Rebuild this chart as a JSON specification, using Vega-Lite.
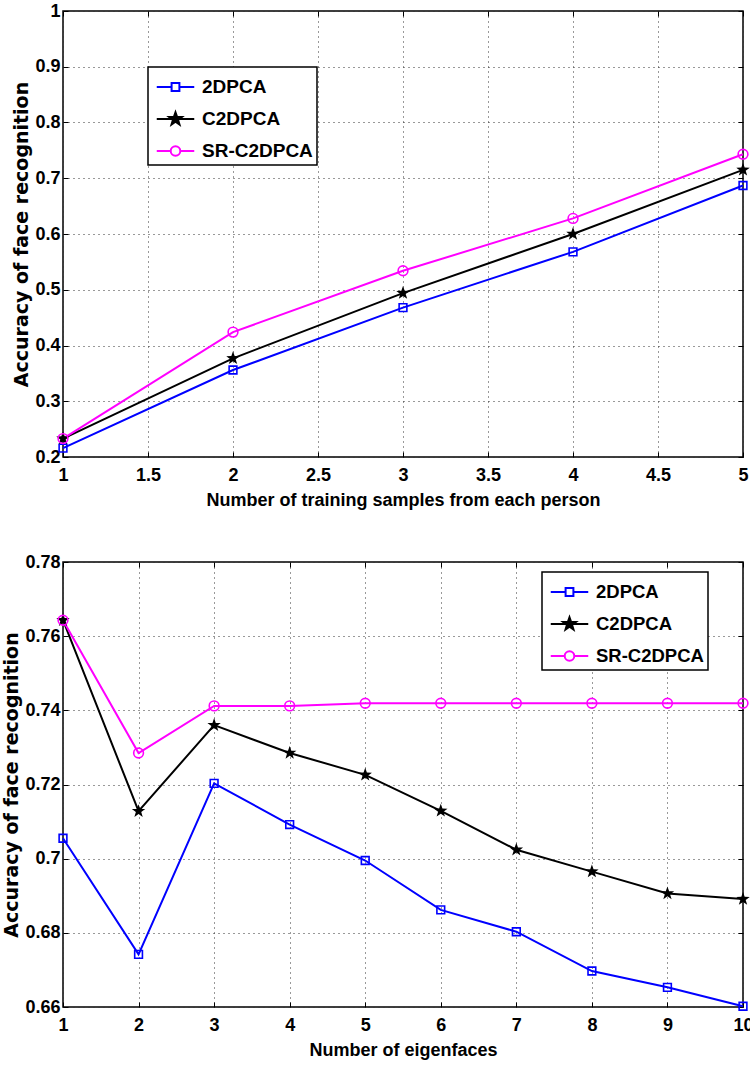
{
  "$schema": "https://vega.github.io/schema/vega-lite/v6.json",
  "background": "white",
  "padding": {"left": 2, "top": 1, "right": 0, "bottom": 0},
  "spacing": 42,
  "resolve": {"scale": {"color": "independent"}, "legend": {"color": "independent"}},
  "datasets": {
    "top": [
      {"n": 1, "method": "2DPCA", "acc": 0.216},
      {"n": 2, "method": "2DPCA", "acc": 0.356},
      {"n": 3, "method": "2DPCA", "acc": 0.468},
      {"n": 4, "method": "2DPCA", "acc": 0.568},
      {"n": 5, "method": "2DPCA", "acc": 0.687},
      {"n": 1, "method": "C2DPCA", "acc": 0.233},
      {"n": 2, "method": "C2DPCA", "acc": 0.377},
      {"n": 3, "method": "C2DPCA", "acc": 0.494},
      {"n": 4, "method": "C2DPCA", "acc": 0.6},
      {"n": 5, "method": "C2DPCA", "acc": 0.715},
      {"n": 1, "method": "SR-C2DPCA", "acc": 0.233},
      {"n": 2, "method": "SR-C2DPCA", "acc": 0.424},
      {"n": 3, "method": "SR-C2DPCA", "acc": 0.534},
      {"n": 4, "method": "SR-C2DPCA", "acc": 0.628},
      {"n": 5, "method": "SR-C2DPCA", "acc": 0.743}
    ],
    "bottom": [
      {"n": 1, "method": "2DPCA", "acc": 0.7055},
      {"n": 2, "method": "2DPCA", "acc": 0.6742},
      {"n": 3, "method": "2DPCA", "acc": 0.7203},
      {"n": 4, "method": "2DPCA", "acc": 0.7092},
      {"n": 5, "method": "2DPCA", "acc": 0.6995},
      {"n": 6, "method": "2DPCA", "acc": 0.6862},
      {"n": 7, "method": "2DPCA", "acc": 0.6803},
      {"n": 8, "method": "2DPCA", "acc": 0.6697},
      {"n": 9, "method": "2DPCA", "acc": 0.6653},
      {"n": 10, "method": "2DPCA", "acc": 0.6602},
      {"n": 1, "method": "C2DPCA", "acc": 0.7643},
      {"n": 2, "method": "C2DPCA", "acc": 0.7128},
      {"n": 3, "method": "C2DPCA", "acc": 0.736},
      {"n": 4, "method": "C2DPCA", "acc": 0.7285},
      {"n": 5, "method": "C2DPCA", "acc": 0.7226},
      {"n": 6, "method": "C2DPCA", "acc": 0.7129},
      {"n": 7, "method": "C2DPCA", "acc": 0.7024},
      {"n": 8, "method": "C2DPCA", "acc": 0.6965},
      {"n": 9, "method": "C2DPCA", "acc": 0.6906},
      {"n": 10, "method": "C2DPCA", "acc": 0.6891},
      {"n": 1, "method": "SR-C2DPCA", "acc": 0.7643},
      {"n": 2, "method": "SR-C2DPCA", "acc": 0.7285},
      {"n": 3, "method": "SR-C2DPCA", "acc": 0.7412},
      {"n": 4, "method": "SR-C2DPCA", "acc": 0.7412},
      {"n": 5, "method": "SR-C2DPCA", "acc": 0.7419},
      {"n": 6, "method": "SR-C2DPCA", "acc": 0.7419},
      {"n": 7, "method": "SR-C2DPCA", "acc": 0.7419},
      {"n": 8, "method": "SR-C2DPCA", "acc": 0.7419},
      {"n": 9, "method": "SR-C2DPCA", "acc": 0.7419},
      {"n": 10, "method": "SR-C2DPCA", "acc": 0.7419}
    ]
  },
  "vconcat": [
    {
      "width": 680,
      "height": 446,
      "data": {"name": "top"},
      "encoding": {
        "x": {"field": "n", "type": "quantitative", "scale": {"domain": [1, 5], "nice": false, "zero": false}, "axis": null},
        "y": {"field": "acc", "type": "quantitative", "scale": {"domain": [0.2, 1], "nice": false, "zero": false}, "axis": null}
      },
      "layer": [
        {
          "mark": {"type": "line", "strokeWidth": 2},
          "encoding": {
            "x": {"field": "n", "type": "quantitative", "axis": {"values": [1, 1.5, 2, 2.5, 3, 3.5, 4, 4.5, 5], "format": "~r", "title": "Number of training samples from each person", "orient": "bottom"}},
            "y": {"field": "acc", "type": "quantitative", "axis": {"values": [0.2, 0.3, 0.4, 0.5, 0.6, 0.7, 0.8, 0.9, 1], "format": "~r", "title": "Accuracy of face recognition", "orient": "left"}},
            "color": {
              "field": "method", "type": "nominal",
              "scale": {"domain": ["2DPCA", "C2DPCA", "SR-C2DPCA"], "range": ["#0000ff", "#000000", "#ff00ff"]},
              "legend": {
                "orient": "none", "legendX": 85, "legendY": 56, "labelFontSize": 19,
                "encode": {"symbols": {"update": {
                  "shape": {"signal": "datum.value === '2DPCA' ? 'M-0.75,0H0.24M0.76,0H1.75M0.24,-0.26H0.76V0.26H0.24Z' : datum.value === 'C2DPCA' ? 'M-0.75,0H1.75M0.5,-0.45L0.606,-0.146L0.928,-0.139L0.671,0.056L0.765,0.364L0.5,0.18L0.235,0.364L0.329,0.056L0.072,-0.139L0.394,-0.146Z' : 'M-0.75,0H0.18M0.82,0H1.75M0.18,0A0.32,0.32,0,1,1,0.82,0A0.32,0.32,0,1,1,0.18,0Z'"},
                  "fill": {"signal": "datum.value === 'C2DPCA' ? '#000000' : 'transparent'"},
                  "fillOpacity": {"signal": "datum.value === 'C2DPCA' ? 1 : 0"},
                  "strokeWidth": {"value": 2},
                  "opacity": {"value": 1}
                }}}
              }
            }
          }
        },
        {
          "transform": [{"filter": "datum.method === '2DPCA'"}],
          "mark": {"type": "point", "shape": "square", "size": 60, "strokeWidth": 1.6, "filled": false, "opacity": 1},
          "encoding": {"color": {"field": "method", "type": "nominal", "legend": null}}
        },
        {
          "transform": [{"filter": "datum.method === 'C2DPCA'"}],
          "mark": {"type": "point", "shape": "M0,-1L0.235,-0.324L0.951,-0.309L0.38,0.124L0.588,0.809L0,0.4L-0.588,0.809L-0.38,0.124L-0.951,-0.309L-0.235,-0.324Z", "size": 200, "filled": true, "opacity": 1},
          "encoding": {"color": {"field": "method", "type": "nominal", "legend": null}}
        },
        {
          "transform": [{"filter": "datum.method === 'SR-C2DPCA'"}],
          "mark": {"type": "point", "shape": "circle", "size": 95, "strokeWidth": 1.6, "filled": false, "opacity": 1},
          "encoding": {"color": {"field": "method", "type": "nominal", "legend": null}}
        },
        {
          "transform": [{"filter": "datum.n < 0"}],
          "mark": {"type": "point", "opacity": 0},
          "encoding": {
            "x": {"field": "n", "type": "quantitative", "axis": {"orient": "top", "values": [1, 1.5, 2, 2.5, 3, 3.5, 4, 4.5, 5], "labels": false, "grid": false, "title": null}},
            "y": {"field": "acc", "type": "quantitative", "axis": {"orient": "right", "values": [0.2, 0.3, 0.4, 0.5, 0.6, 0.7, 0.8, 0.9, 1], "labels": false, "grid": false, "title": null}}
          }
        }
      ],
      "resolve": {"axis": {"x": "independent", "y": "independent"}}
    },
    {
      "width": 680,
      "height": 445,
      "data": {"name": "bottom"},
      "encoding": {
        "x": {"field": "n", "type": "quantitative", "scale": {"domain": [1, 10], "nice": false, "zero": false}, "axis": null},
        "y": {"field": "acc", "type": "quantitative", "scale": {"domain": [0.66, 0.78], "nice": false, "zero": false}, "axis": null}
      },
      "layer": [
        {
          "mark": {"type": "line", "strokeWidth": 2},
          "encoding": {
            "x": {"field": "n", "type": "quantitative", "axis": {"values": [1, 2, 3, 4, 5, 6, 7, 8, 9, 10], "format": "~r", "title": "Number of eigenfaces", "orient": "bottom"}},
            "y": {"field": "acc", "type": "quantitative", "axis": {"values": [0.66, 0.68, 0.7, 0.72, 0.74, 0.76, 0.78], "format": "~r", "title": "Accuracy of face recognition", "orient": "left"}},
            "color": {
              "field": "method", "type": "nominal",
              "scale": {"domain": ["2DPCA", "C2DPCA", "SR-C2DPCA"], "range": ["#0000ff", "#000000", "#ff00ff"]},
              "legend": {
                "orient": "none", "legendX": 479, "legendY": 10, "labelFontSize": 18.5,
                "encode": {"symbols": {"update": {
                  "shape": {"signal": "datum.value === '2DPCA' ? 'M-0.75,0H0.24M0.76,0H1.75M0.24,-0.26H0.76V0.26H0.24Z' : datum.value === 'C2DPCA' ? 'M-0.75,0H1.75M0.5,-0.45L0.606,-0.146L0.928,-0.139L0.671,0.056L0.765,0.364L0.5,0.18L0.235,0.364L0.329,0.056L0.072,-0.139L0.394,-0.146Z' : 'M-0.75,0H0.18M0.82,0H1.75M0.18,0A0.32,0.32,0,1,1,0.82,0A0.32,0.32,0,1,1,0.18,0Z'"},
                  "fill": {"signal": "datum.value === 'C2DPCA' ? '#000000' : 'transparent'"},
                  "fillOpacity": {"signal": "datum.value === 'C2DPCA' ? 1 : 0"},
                  "strokeWidth": {"value": 2},
                  "opacity": {"value": 1}
                }}}
              }
            }
          }
        },
        {
          "transform": [{"filter": "datum.method === '2DPCA'"}],
          "mark": {"type": "point", "shape": "square", "size": 60, "strokeWidth": 1.6, "filled": false, "opacity": 1},
          "encoding": {"color": {"field": "method", "type": "nominal", "legend": null}}
        },
        {
          "transform": [{"filter": "datum.method === 'C2DPCA'"}],
          "mark": {"type": "point", "shape": "M0,-1L0.235,-0.324L0.951,-0.309L0.38,0.124L0.588,0.809L0,0.4L-0.588,0.809L-0.38,0.124L-0.951,-0.309L-0.235,-0.324Z", "size": 200, "filled": true, "opacity": 1},
          "encoding": {"color": {"field": "method", "type": "nominal", "legend": null}}
        },
        {
          "transform": [{"filter": "datum.method === 'SR-C2DPCA'"}],
          "mark": {"type": "point", "shape": "circle", "size": 95, "strokeWidth": 1.6, "filled": false, "opacity": 1},
          "encoding": {"color": {"field": "method", "type": "nominal", "legend": null}}
        },
        {
          "transform": [{"filter": "datum.n < 0"}],
          "mark": {"type": "point", "opacity": 0},
          "encoding": {
            "x": {"field": "n", "type": "quantitative", "axis": {"orient": "top", "values": [1, 2, 3, 4, 5, 6, 7, 8, 9, 10], "labels": false, "grid": false, "title": null}},
            "y": {"field": "acc", "type": "quantitative", "axis": {"orient": "right", "values": [0.66, 0.68, 0.7, 0.72, 0.74, 0.76, 0.78], "labels": false, "grid": false, "title": null}}
          }
        }
      ],
      "resolve": {"axis": {"x": "independent", "y": "independent"}}
    }
  ],
  "config": {
    "view": {"stroke": "#000000", "strokeWidth": 1.5},
    "axis": {
      "domain": false,
      "grid": true,
      "gridColor": "#333333",
      "gridDash": [1, 4],
      "gridWidth": 1,
      "ticks": true,
      "tickColor": "#000000",
      "tickSize": -5,
      "tickWidth": 1,
      "labelPadding": 8,
      "labelFont": "Liberation Sans",
      "labelFontSize": 18,
      "labelFontWeight": "bold",
      "labelColor": "#000000",
      "labelFlush": false,
      "labelOverlap": false,
      "titleFont": "DejaVu Sans",
      "titleFontSize": 19,
      "titleFontWeight": "bold",
      "titleColor": "#000000",
      "titlePadding": 3
    },
    "axisX": {"titleFont": "Liberation Sans", "titleFontSize": 18, "titlePadding": 7, "labelPadding": 14},
    "legend": {
      "title": null,
      "strokeColor": "#000000",
      "strokeWidth": 1.5,
      "fillColor": "#ffffff",
      "padding": 4,
      "symbolSize": 900,
      "symbolStrokeWidth": 2,
      "symbolOpacity": 1,
      "labelOffset": 18,
      "rowPadding": 6,
      "labelFont": "Liberation Sans",
      "labelFontWeight": "bold",
      "labelColor": "#000000",
      "labelLimit": 300
    }
  }
}
